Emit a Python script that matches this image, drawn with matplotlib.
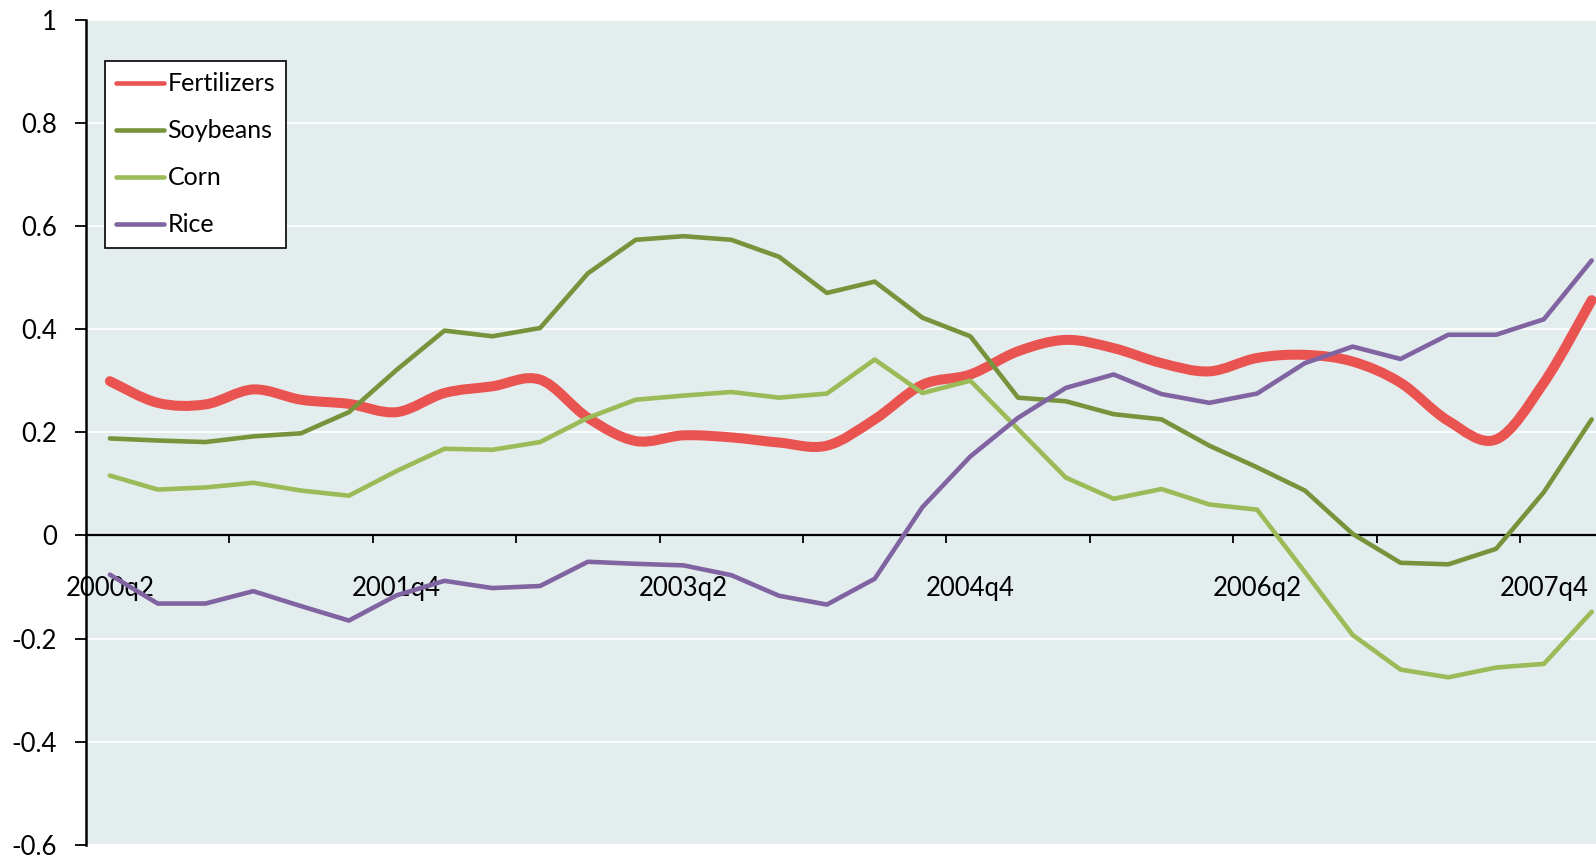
import numpy as np
import matplotlib
matplotlib.use('Agg')
import matplotlib.pyplot as plt
from matplotlib.path import Path
from matplotlib.patches import PathPatch
from matplotlib.lines import Line2D

plt.rcParams['font.family'] = ['Lato', 'DejaVu Sans']

# quarterly correlations, 2000q2 .. 2008q1
quarters = ['2000q2', '2001q4', '2003q2', '2004q4', '2006q2', '2007q4']
label_index = [0, 6, 12, 18, 24, 30]

fertilizers = [0.299, 0.257, 0.254, 0.283, 0.263, 0.255, 0.239, 0.276,
               0.289, 0.302, 0.228, 0.183, 0.194, 0.190, 0.180, 0.174,
               0.225, 0.292, 0.312, 0.357, 0.379, 0.363, 0.334, 0.318,
               0.344, 0.350, 0.337, 0.296, 0.222, 0.186, 0.296, 0.456]
soybeans = [0.188, 0.184, 0.181, 0.192, 0.198, 0.239, 0.321, 0.397,
            0.386, 0.402, 0.508, 0.573, 0.580, 0.573, 0.540, 0.470,
            0.492, 0.422, 0.386, 0.267, 0.260, 0.235, 0.225, 0.174,
            0.132, 0.087, 0.003, -0.053, -0.056, -0.026, 0.084, 0.225]
corn = [0.116, 0.089, 0.093, 0.102, 0.087, 0.077, 0.125, 0.168,
        0.166, 0.181, 0.228, 0.263, 0.271, 0.278, 0.267, 0.275,
        0.341, 0.276, 0.300, 0.206, 0.112, 0.071, 0.090, 0.060,
        0.050, -0.071, -0.193, -0.260, -0.275, -0.256, -0.249, -0.148]
rice = [-0.076, -0.132, -0.132, -0.108, -0.137, -0.165, -0.116, -0.088,
        -0.102, -0.098, -0.051, -0.055, -0.058, -0.077, -0.117, -0.134,
        -0.084, 0.055, 0.153, 0.228, 0.286, 0.312, 0.274, 0.257,
        0.275, 0.334, 0.366, 0.342, 0.389, 0.389, 0.419, 0.533]

y_ticks = [-0.6, -0.4, -0.2, 0, 0.2, 0.4, 0.6, 0.8, 1]
y_tick_labels = ['-0.6', '-0.4', '-0.2', '0', '0.2', '0.4', '0.6', '0.8', '1']

RED = '#E95350'
SOY = '#77933C'
CORN = '#9BBB59'
RICE = '#8064A2'


def smooth_path(x, y):
    # excel-like smoothed line: cubic bezier through every point
    n = len(x)
    verts = [(x[0], y[0])]
    codes = [Path.MOVETO]
    for i in range(n - 1):
        p = max(i - 1, 0)
        q = min(i + 2, n - 1)
        c1 = (x[i] + (x[i + 1] - x[p]) / 6, y[i] + (y[i + 1] - y[p]) / 6)
        c2 = (x[i + 1] - (x[q] - x[i]) / 6, y[i + 1] - (y[q] - y[i]) / 6)
        verts += [c1, c2, (x[i + 1], y[i + 1])]
        codes += [Path.CURVE4] * 3
    return Path(verts, codes)


fig = plt.figure(figsize=(15.96, 8.6), dpi=100)
ax = fig.add_axes([86 / 1596, 15 / 860, 1510 / 1596, 825.5 / 860])
ax.set_facecolor('#E4EDEE')

x = np.arange(len(fertilizers))

patch = PathPatch(smooth_path(x, fertilizers), fill=False, edgecolor=RED,
                  linewidth=7.2, capstyle='round', joinstyle='round',
                  zorder=3)
ax.add_patch(patch)
ax.plot(x, soybeans, color=SOY, linewidth=3.3, solid_capstyle='round',
        solid_joinstyle='round', zorder=3)
ax.plot(x, corn, color=CORN, linewidth=3.3, solid_capstyle='round',
        solid_joinstyle='round', zorder=3)
ax.plot(x, rice, color=RICE, linewidth=3.3, solid_capstyle='round',
        solid_joinstyle='round', zorder=3)

ax.set_xlim(-0.5, 31.09)
ax.set_ylim(-0.6, 1)

ax.set_yticks(y_ticks, labels=y_tick_labels)
ax.yaxis.grid(True, color='white', linewidth=1.3)
ax.set_axisbelow(True)

ax.set_xticks(np.arange(2.5, 31, 3))
ax.set_xticks(label_index, labels=quarters, minor=True)
ax.tick_params(axis='x', which='major', direction='out', length=6,
               width=1.3, labelbottom=False)
ax.tick_params(axis='x', which='minor', length=0, pad=29, labelsize=18.5)
ax.tick_params(axis='y', direction='out', length=8, width=1.3, pad=13,
               labelsize=18.5)

for side in ('top', 'right'):
    ax.spines[side].set_visible(False)
ax.spines['bottom'].set_position(('data', 0))
ax.spines['bottom'].set_linewidth(1.6)
ax.spines['left'].set_linewidth(1.8)

handles = [
    Line2D([], [], color=RED, linewidth=3.3, solid_capstyle='round'),
    Line2D([], [], color=SOY, linewidth=3.3, solid_capstyle='round'),
    Line2D([], [], color=CORN, linewidth=3.3, solid_capstyle='round'),
    Line2D([], [], color=RICE, linewidth=3.3, solid_capstyle='round'),
]
leg = ax.legend(handles, ['Fertilizers', 'Soybeans', 'Corn', 'Rice'],
                loc='upper left', bbox_to_anchor=(0.0126, 0.9497),
                borderaxespad=0, fontsize=18, fancybox=False,
                framealpha=1, edgecolor='black', handlelength=1.9,
                handletextpad=0.15, labelspacing=0.96, borderpad=0.45)
leg.get_frame().set_linewidth(1.2)

fig.savefig('out.png', dpi=100)
